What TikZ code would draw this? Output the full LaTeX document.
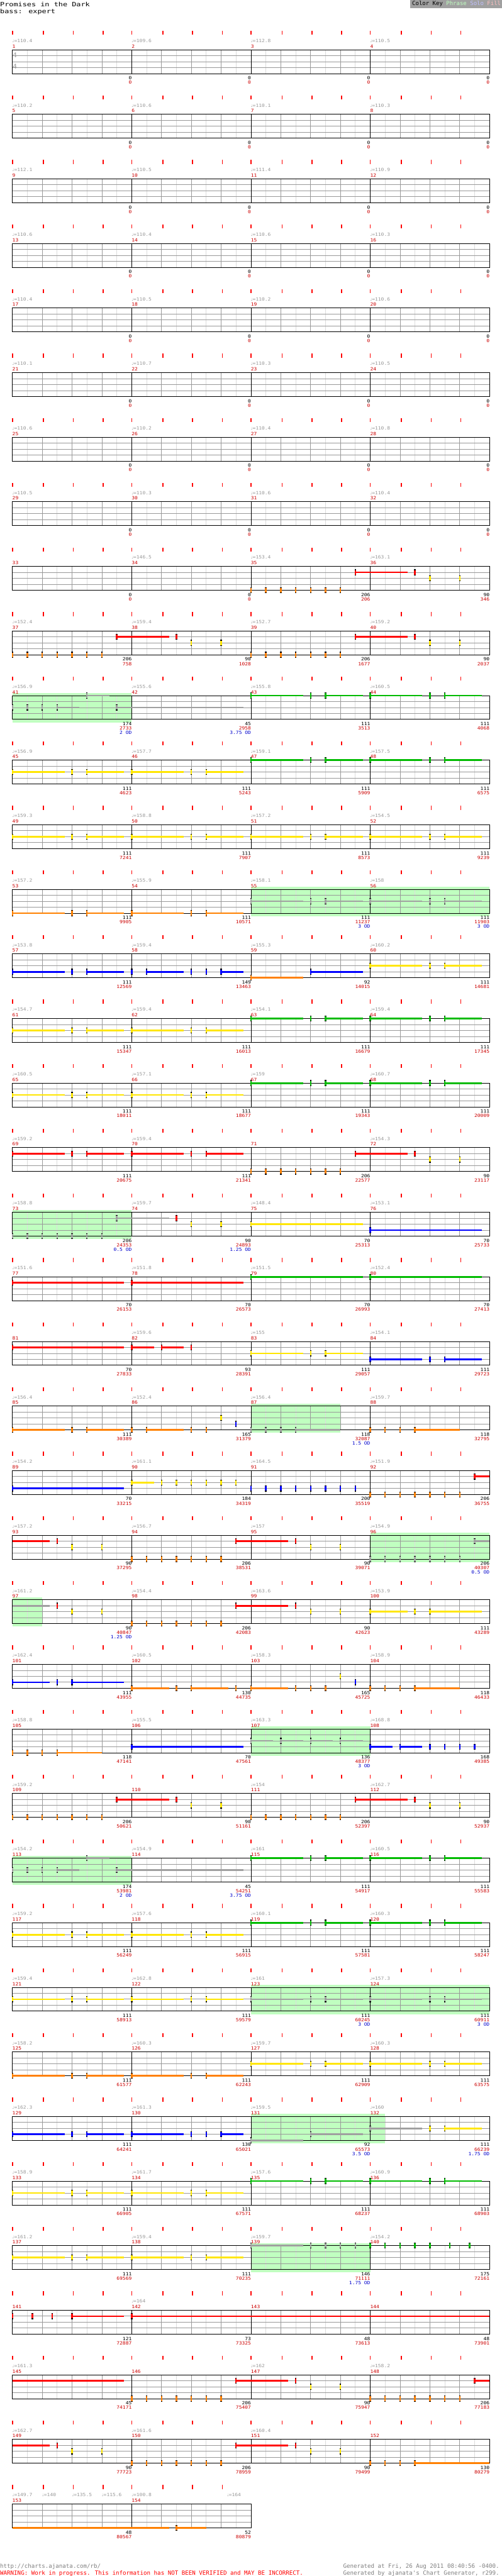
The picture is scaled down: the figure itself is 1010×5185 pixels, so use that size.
\documentclass[tikz,border=0pt]{standalone}
\usepackage{fontspec}
\newfontfamily\cf[FakeStretch=1.12]{DejaVu Sans Mono}
\newfontfamily\tf[FakeStretch=1.25]{DejaVu Sans Mono}
\newfontfamily\ff{DejaVu Sans Mono}
\newfontfamily\symf{DejaVu Sans}
\definecolor{cG}{HTML}{00BB00}
\definecolor{cR}{HTML}{FF0000}
\definecolor{cY}{HTML}{FFE600}
\definecolor{cB}{HTML}{0000FF}
\definecolor{cO}{HTML}{FF8000}
\definecolor{cS}{HTML}{A0A0A0}
\definecolor{odfill}{HTML}{C0FFC0}
\definecolor{glc}{HTML}{DCDCDC}
\definecolor{gmc}{HTML}{999999}
\definecolor{numred}{HTML}{CC0000}
\definecolor{tempog}{HTML}{999999}
\definecolor{odblue}{HTML}{0000CC}
\definecolor{footgray}{HTML}{808080}
\definecolor{keygray}{HTML}{A0A0A0}
\definecolor{kph}{HTML}{C0FFC0}
\definecolor{kso}{HTML}{C0C0FF}
\definecolor{kfi}{HTML}{FFC0C0}
\tikzset{
 txt/.style={inner sep=0pt,outer sep=0pt,font=\cf\fontsize{9}{9}\selectfont},
 mnum/.style={txt,anchor=base west,text=numred},
 tmp/.style={txt,anchor=base west,text=tempog},
 scb/.style={txt,anchor=base east,text=black},
 scr/.style={txt,anchor=base east,text=numred},
 scod/.style={txt,anchor=base east,text=odblue},
 gl/.style={draw=glc,line width=1pt},
 gm/.style={draw=gmc,line width=1pt},
 gk/.style={draw=black,line width=1pt},
}
\newcommand\qn{{\symf\fontsize{7.5}{7.5}\selectfont\char"2669}}
\newcommand\M[6]{%
 \node[mnum] at ({25+240*#1},34.3) {#2};
 \def\tmpa{#3}\ifx\tmpa\empty\else\node[tmp] at ({25+240*#1},23.3) {\qn=#3};\fi
 \node[scb] at ({25+240*(#1+1)},98.3) {#4};
 \node[scr] at ({25+240*(#1+1)},107.3) {#5};
 \def\tmpb{#6}\ifx\tmpb\empty\else\node[scod] at ({25+240*(#1+1)},116.3) {#6};\fi}
\newcommand\tp[2]{\node[tmp] at (#1,23.3) {\qn=#2};}
\newcommand\grid[1]{%
 \pgfmathtruncatemacro\ne{8*#1}%
 \pgfmathtruncatemacro\nb{4*#1}%
 \pgfmathsetmacro\xe{25+240*#1}%
 \foreach \i in {1,...,\ne} {\draw[gl] ({25+30*\i},38) -- ({25+30*\i},86);}
 \foreach \i in {1,...,\nb} {\draw[gm] ({25+60*\i},38) -- ({25+60*\i},86);}
 \foreach \j in {1,2,3} {\draw[gm] (25,{38+12*\j}) -- (\xe,{38+12*\j});}
 \foreach \mm in {1,...,#1} {\draw[gk] ({25+240*\mm},38) -- ({25+240*\mm},86);}
 \draw[gk] (25,38) rectangle (\xe,86);
 \foreach \mm in {1,...,#1} {\foreach \oo in {0,62.5,122.5,182.5} {\fill[cR] ({25+240*(\mm-1)+\oo-1},0) rectangle ++(2,8);}}
}
\newcommand\odr[2]{\fill[odfill] ({25+30*(#1)},33) rectangle ({25+30*(#2)},92);}
\newcommand\nt[3]{\fill[#1] ({25+30*(#3)-1.5},{20+12*#2}) rectangle ++(3,12);
 \fill[black] ({25+30*(#3)-1.5},{20+12*#2}) rectangle ++(3,1.5);
 \fill[black] ({25+30*(#3)-1.5},{30.5+12*#2}) rectangle ++(3,1.5);}
\newcommand\su[4]{\fill[#1] ({25+30*(#3)},{24.3+12*#2}) rectangle ({25+30*(#4)},{27.7+12*#2});}
\newcommand\ns[4]{\su{#1}{#2}{#3}{#4}\nt{#1}{#2}{#3}}
\newcommand\pA[3]{\ns{#1}{#2}{8*#3}{8*#3+3.5}\nt{#1}{#2}{8*#3+4}\ns{#1}{#2}{8*#3+5}{8*#3+7.5}}
\newcommand\pB[3]{\ns{#1}{#2}{8*#3}{8*#3+2.5}\nt{#1}{#2}{8*#3+3}\ns{#1}{#2}{8*#3+4}{8*#3+7.5}}
\newcommand\run[4]{\foreach \q in {#1,...,#2}{\nt{#3}{#4}{\q}}}
\newcommand\riff[1]{\foreach \q in {0,...,6}{\nt{cO}{5}{#1+\q}}\ns{cR}{2}{#1+7}{#1+10.5}\nt{cR}{2}{#1+11}\nt{cY}{3}{#1+12}\nt{cY}{3}{#1+14}}
\newcommand\odriff{\run{0}{6}{cS}{5}\ns{cS}{2}{7}{10.5}\nt{cR}{2}{11}\nt{cY}{3}{12}\nt{cY}{3}{14}}
\newcommand\solo{\ns{cS}{1}{5}{6.5}\nt{cS}{3}{0}\nt{cS}{3}{1}\nt{cS}{3}{2}\ns{cS}{3}{3}{4.5}\ns{cS}{3}{7}{15.5}}
\begin{document}
\begin{tikzpicture}[x=1pt,y=-1pt]
\useasboundingbox (0,0) rectangle (1010,5185);
\fill[white] (0,0) rectangle (1010,5185);
% header
\node[anchor=base west,inner sep=0pt,font=\tf\fontsize{12}{12}\selectfont] (title) at (0,12.7) {Promises in the Dark};
\node[anchor=base west,inner sep=0pt,font=\tf\fontsize{12}{12}\selectfont] (sub) at (0,27) {bass: expert};
\fill[keygray] (825,0) rectangle (1010,16);
\node[anchor=base east,inner sep=0pt,font=\ff\fontsize{11.4}{11.4}\selectfont] (key) at (1008,11) {Color Key \textcolor{kph}{Phrase} \textcolor{kso}{Solo} \textcolor{kfi}{Fill}};
% row 0
\begin{scope}[shift={(0,62)}]
\grid{4}
\node[txt,text=gmc,font=\cf\fontsize{13}{13}\selectfont] at (30,48.5) {4};
\node[txt,text=gmc,font=\cf\fontsize{13}{13}\selectfont] at (30,72.5) {4};
\M{0}{1}{110.4}{0}{0}{}\M{1}{2}{109.6}{0}{0}{}\M{2}{3}{112.8}{0}{0}{}\M{3}{4}{110.5}{0}{0}{}
\end{scope}
\begin{scope}[shift={(0,192)}]\grid{4}
\M{0}{5}{110.2}{0}{0}{}\M{1}{6}{110.6}{0}{0}{}\M{2}{7}{110.1}{0}{0}{}\M{3}{8}{110.3}{0}{0}{}
\end{scope}
\begin{scope}[shift={(0,322)}]\grid{4}
\M{0}{9}{112.1}{0}{0}{}\M{1}{10}{110.5}{0}{0}{}\M{2}{11}{111.4}{0}{0}{}\M{3}{12}{110.9}{0}{0}{}
\end{scope}
\begin{scope}[shift={(0,452)}]\grid{4}
\M{0}{13}{110.6}{0}{0}{}\M{1}{14}{110.4}{0}{0}{}\M{2}{15}{110.6}{0}{0}{}\M{3}{16}{110.3}{0}{0}{}
\end{scope}
\begin{scope}[shift={(0,582)}]\grid{4}
\M{0}{17}{110.4}{0}{0}{}\M{1}{18}{110.5}{0}{0}{}\M{2}{19}{110.2}{0}{0}{}\M{3}{20}{110.6}{0}{0}{}
\end{scope}
\begin{scope}[shift={(0,712)}]\grid{4}
\M{0}{21}{110.1}{0}{0}{}\M{1}{22}{110.7}{0}{0}{}\M{2}{23}{110.3}{0}{0}{}\M{3}{24}{110.5}{0}{0}{}
\end{scope}
\begin{scope}[shift={(0,842)}]\grid{4}
\M{0}{25}{110.6}{0}{0}{}\M{1}{26}{110.2}{0}{0}{}\M{2}{27}{110.4}{0}{0}{}\M{3}{28}{110.8}{0}{0}{}
\end{scope}
\begin{scope}[shift={(0,972)}]\grid{4}
\M{0}{29}{110.5}{0}{0}{}\M{1}{30}{110.3}{0}{0}{}\M{2}{31}{110.6}{0}{0}{}\M{3}{32}{110.4}{0}{0}{}
\end{scope}
% row 8
\begin{scope}[shift={(0,1102)}]\grid{4}
\M{0}{33}{}{0}{0}{}\M{1}{34}{146.5}{0}{0}{}\M{2}{35}{153.4}{206}{206}{}\M{3}{36}{163.1}{90}{346}{}
\riff{16}
\end{scope}
\begin{scope}[shift={(0,1232)}]\grid{4}
\M{0}{37}{152.4}{206}{758}{}\M{1}{38}{159.4}{90}{1028}{}\M{2}{39}{152.7}{206}{1677}{}\M{3}{40}{159.2}{90}{2037}{}
\riff{0}\riff{16}
\end{scope}
\begin{scope}[shift={(0,1362)}]\odr{0}{8}\grid{4}
\M{0}{41}{156.9}{174}{2733}{2 OD}\M{1}{42}{155.6}{45}{2958}{3.75 OD}\M{2}{43}{155.8}{111}{3513}{}\M{3}{44}{160.5}{111}{4068}{}
\solo\pA{cG}{1}{2}\pA{cG}{1}{3}
\end{scope}
\begin{scope}[shift={(0,1492)}]\grid{4}
\M{0}{45}{156.9}{111}{4623}{}\M{1}{46}{157.7}{111}{5243}{}\M{2}{47}{159.1}{111}{5909}{}\M{3}{48}{157.5}{111}{6575}{}
\pA{cY}{3}{0}\pA{cY}{3}{1}\pA{cG}{1}{2}\pA{cG}{1}{3}
\end{scope}
\begin{scope}[shift={(0,1622)}]\grid{4}
\M{0}{49}{159.3}{111}{7241}{}\M{1}{50}{158.8}{111}{7907}{}\M{2}{51}{157.2}{111}{8573}{}\M{3}{52}{154.5}{111}{9239}{}
\pA{cY}{3}{0}\pA{cY}{3}{1}\pA{cY}{3}{2}\pA{cY}{3}{3}
\end{scope}
\begin{scope}[shift={(0,1752)}]\odr{16}{32}\grid{4}
\M{0}{53}{157.2}{111}{9905}{}\M{1}{54}{155.9}{111}{10571}{}\M{2}{55}{158.1}{111}{11237}{3 OD}\M{3}{56}{158}{111}{11903}{3 OD}
\pA{cO}{5}{0}\pA{cO}{5}{1}\pA{cS}{3}{2}\pA{cS}{3}{3}
\end{scope}
\begin{scope}[shift={(0,1882)}]\grid{4}
\M{0}{57}{153.8}{111}{12569}{}\M{1}{58}{159.4}{149}{13463}{}\M{2}{59}{155.3}{92}{14015}{}\M{3}{60}{160.2}{111}{14681}{}
\pA{cB}{4}{0}\nt{cB}{4}{8}\ns{cB}{4}{9}{11.5}\nt{cB}{4}{12}\nt{cB}{4}{13}\ns{cB}{4}{14}{15.5}
\ns{cO}{5}{16}{19.5}\ns{cB}{4}{20}{23.5}\pA{cY}{3}{3}
\end{scope}
\begin{scope}[shift={(0,2012)}]\grid{4}
\M{0}{61}{154.7}{111}{15347}{}\M{1}{62}{159.4}{111}{16013}{}\M{2}{63}{154.1}{111}{16679}{}\M{3}{64}{159.4}{111}{17345}{}
\pA{cY}{3}{0}\pA{cY}{3}{1}\pA{cG}{1}{2}\pA{cG}{1}{3}
\end{scope}
\begin{scope}[shift={(0,2142)}]\grid{4}
\M{0}{65}{160.5}{111}{18011}{}\M{1}{66}{157.1}{111}{18677}{}\M{2}{67}{159}{111}{19343}{}\M{3}{68}{160.7}{111}{20009}{}
\pA{cY}{3}{0}\pA{cY}{3}{1}\pA{cG}{1}{2}\pA{cG}{1}{3}
\end{scope}
\begin{scope}[shift={(0,2272)}]\grid{4}
\M{0}{69}{159.2}{111}{20675}{}\M{1}{70}{159.4}{111}{21341}{}\M{2}{71}{}{206}{22577}{}\M{3}{72}{154.3}{90}{23117}{}
\pA{cR}{2}{0}\pA{cR}{2}{1}\riff{16}
\end{scope}
\begin{scope}[shift={(0,2402)}]\odr{0}{8}\grid{4}
\M{0}{73}{158.8}{206}{24353}{0.5 OD}\M{1}{74}{159.7}{90}{24893}{1.25 OD}\M{2}{75}{148.4}{70}{25313}{}\M{3}{76}{153.1}{70}{25733}{}
\odriff\ns{cY}{3}{16}{23.5}\ns{cB}{4}{24}{31.5}
\end{scope}
\begin{scope}[shift={(0,2532)}]\grid{4}
\M{0}{77}{151.6}{70}{26153}{}\M{1}{78}{151.8}{70}{26573}{}\M{2}{79}{151.5}{70}{26993}{}\M{3}{80}{152.4}{70}{27413}{}
\ns{cR}{2}{0}{7.5}\ns{cR}{2}{8}{15.5}\ns{cG}{1}{16}{23.5}\ns{cG}{1}{24}{31.5}
\end{scope}
\begin{scope}[shift={(0,2662)}]\grid{4}
\M{0}{81}{}{70}{27833}{}\M{1}{82}{159.6}{93}{28391}{}\M{2}{83}{155}{111}{29057}{}\M{3}{84}{154.1}{111}{29723}{}
\ns{cR}{2}{0}{7.5}\ns{cR}{2}{8}{9.5}\ns{cR}{2}{10}{11.5}\nt{cR}{2}{12}\pA{cY}{3}{2}\pA{cB}{4}{3}
\end{scope}
\begin{scope}[shift={(0,2792)}]\odr{16}{22}\grid{4}
\M{0}{85}{156.4}{111}{30389}{}\M{1}{86}{152.4}{165}{31379}{}\M{2}{87}{156.4}{118}{32087}{1.5 OD}\M{3}{88}{159.7}{118}{32795}{}
\pA{cO}{5}{0}\nt{cO}{5}{8}\ns{cO}{5}{9}{11.5}\nt{cO}{5}{12}\nt{cO}{5}{13}\nt{cY}{3}{14}\nt{cB}{4}{15}
\run{16}{18}{cS}{5}\ns{cS}{5}{19}{22}\run{24}{26}{cO}{5}\ns{cO}{5}{27}{30}
\end{scope}
\begin{scope}[shift={(0,2922)}]\grid{4}
\M{0}{89}{154.2}{70}{33215}{}\M{1}{90}{161.1}{184}{34319}{}\M{2}{91}{164.5}{200}{35519}{}\M{3}{92}{151.9}{206}{36755}{}
\ns{cB}{4}{0}{7.5}\ns{cY}{3}{8}{9.5}\run{10}{15}{cY}{3}\run{16}{23}{cB}{4}\run{24}{30}{cO}{5}\ns{cR}{2}{31}{32}
\end{scope}
\begin{scope}[shift={(0,3052)}]\odr{24}{32}\grid{4}
\M{0}{93}{157.2}{90}{37295}{}\M{1}{94}{156.7}{206}{38531}{}\M{2}{95}{157}{90}{39071}{}\M{3}{96}{154.9}{206}{40307}{0.5 OD}
\su{cR}{2}{0}{2.5}\nt{cR}{2}{3}\nt{cY}{3}{4}\nt{cY}{3}{6}\riff{8}\run{24}{30}{cS}{5}\ns{cS}{2}{31}{32}
\end{scope}
\begin{scope}[shift={(0,3182)}]\odr{0}{2}\grid{4}
\M{0}{97}{161.2}{90}{40847}{1.25 OD}\M{1}{98}{154.4}{206}{42083}{}\M{2}{99}{163.6}{90}{42623}{}\M{3}{100}{153.9}{111}{43289}{}
\su{cS}{2}{0}{2.5}\nt{cR}{2}{3}\nt{cY}{3}{4}\nt{cY}{3}{6}\riff{8}\pB{cY}{3}{3}
\end{scope}
\begin{scope}[shift={(0,3312)}]\grid{4}
\M{0}{101}{162.4}{111}{43955}{}\M{1}{102}{160.5}{130}{44735}{}\M{2}{103}{158.3}{165}{45725}{}\M{3}{104}{158.9}{118}{46433}{}
\pB{cB}{4}{0}\ns{cO}{5}{8}{10.5}\nt{cO}{5}{11}\ns{cO}{5}{12}{14.5}\nt{cO}{5}{15}
\ns{cO}{5}{16}{18.5}\run{19}{21}{cO}{5}\nt{cY}{3}{22}\nt{cB}{4}{23}\run{24}{26}{cO}{5}\ns{cO}{5}{27}{30}
\end{scope}
\begin{scope}[shift={(0,3442)}]\odr{16}{24}\grid{4}
\M{0}{105}{158.8}{118}{47141}{}\M{1}{106}{155.5}{70}{47561}{}\M{2}{107}{163.3}{136}{48377}{3 OD}\M{3}{108}{168.8}{168}{49385}{}
\run{0}{2}{cO}{5}\ns{cO}{5}{3}{6}\ns{cB}{4}{8}{15.5}
\ns{cS}{3}{16}{17.5}\ns{cS}{3}{18}{19.5}\ns{cS}{3}{20}{21.5}\ns{cS}{3}{22}{23.5}
\ns{cB}{4}{24}{25.5}\ns{cB}{4}{26}{27.5}\run{28}{31}{cB}{4}
\end{scope}
\begin{scope}[shift={(0,3572)}]\grid{4}
\M{0}{109}{159.2}{206}{50621}{}\M{1}{110}{}{90}{51161}{}\M{2}{111}{154}{206}{52397}{}\M{3}{112}{162.7}{90}{52937}{}
\riff{0}\riff{16}
\end{scope}
\begin{scope}[shift={(0,3702)}]\odr{0}{8}\grid{4}
\M{0}{113}{154.2}{174}{53981}{2 OD}\M{1}{114}{154.9}{45}{54251}{3.75 OD}\M{2}{115}{161}{111}{54917}{}\M{3}{116}{160.5}{111}{55583}{}
\solo\pA{cG}{1}{2}\pA{cG}{1}{3}
\end{scope}
\begin{scope}[shift={(0,3832)}]\grid{4}
\M{0}{117}{159.2}{111}{56249}{}\M{1}{118}{157.6}{111}{56915}{}\M{2}{119}{160.1}{111}{57581}{}\M{3}{120}{160.3}{111}{58247}{}
\pA{cY}{3}{0}\pA{cY}{3}{1}\pA{cG}{1}{2}\pA{cG}{1}{3}
\end{scope}
\begin{scope}[shift={(0,3962)}]\odr{16}{32}\grid{4}
\M{0}{121}{159.4}{111}{58913}{}\M{1}{122}{162.8}{111}{59579}{}\M{2}{123}{161}{111}{60245}{3 OD}\M{3}{124}{157.3}{111}{60911}{3 OD}
\pA{cY}{3}{0}\pA{cY}{3}{1}\pA{cS}{3}{2}\pA{cS}{3}{3}
\end{scope}
\begin{scope}[shift={(0,4092)}]\grid{4}
\M{0}{125}{158.2}{111}{61577}{}\M{1}{126}{160.3}{111}{62243}{}\M{2}{127}{159.7}{111}{62909}{}\M{3}{128}{160.3}{111}{63575}{}
\pA{cO}{5}{0}\pA{cO}{5}{1}\pA{cY}{3}{2}\pA{cY}{3}{3}
\end{scope}
\begin{scope}[shift={(0,4222)}]\odr{16}{25}\grid{4}
\M{0}{129}{162.3}{111}{64241}{}\M{1}{130}{161.3}{130}{65021}{}\M{2}{131}{159.5}{92}{65573}{3.5 OD}\M{3}{132}{160}{111}{66239}{1.75 OD}
\pA{cB}{4}{0}\ns{cB}{4}{8}{11.5}\nt{cB}{4}{12}\nt{cB}{4}{13}\ns{cB}{4}{14}{15.5}
\ns{cS}{5}{16}{19.5}\ns{cS}{4}{20}{23.5}\ns{cS}{3}{24}{27.5}\nt{cY}{3}{28}\ns{cY}{3}{29}{31.5}
\end{scope}
\begin{scope}[shift={(0,4352)}]\grid{4}
\M{0}{133}{158.9}{111}{66905}{}\M{1}{134}{161.7}{111}{67571}{}\M{2}{135}{157.6}{111}{68237}{}\M{3}{136}{160.9}{111}{68903}{}
\pA{cY}{3}{0}\pA{cY}{3}{1}\pA{cG}{1}{2}\pA{cG}{1}{3}
\end{scope}
\begin{scope}[shift={(0,4482)}]\odr{16}{24}\grid{4}
\M{0}{137}{161.2}{111}{69569}{}\M{1}{138}{159.4}{111}{70235}{}\M{2}{139}{159.7}{146}{71111}{1.75 OD}\M{3}{140}{154.2}{175}{72161}{}
\pA{cY}{3}{0}\pA{cY}{3}{1}\ns{cS}{1}{16}{19.5}\run{20}{23}{cS}{1}\run{24}{28}{cG}{1}\nt{cG}{1}{29.333}\nt{cG}{1}{30.667}
\end{scope}
\begin{scope}[shift={(0,4612)}]\grid{4}
\M{0}{141}{}{121}{72887}{}\M{1}{142}{164}{73}{73325}{}\M{2}{143}{}{48}{73613}{}\M{3}{144}{}{48}{73901}{}
\nt{cR}{2}{0}\nt{cR}{2}{1.333}\nt{cR}{2}{2.667}\ns{cR}{2}{4}{7.5}\ns{cR}{2}{8}{32}
\end{scope}
\begin{scope}[shift={(0,4742)}]\grid{4}
\M{0}{145}{161.3}{45}{74171}{}\M{1}{146}{}{206}{75407}{}\M{2}{147}{162}{90}{75947}{}\M{3}{148}{158.2}{206}{77183}{}
\su{cR}{2}{0}{7.5}\riff{8}\run{24}{30}{cO}{5}\ns{cR}{2}{31}{32}
\end{scope}
\begin{scope}[shift={(0,4872)}]\grid{4}
\M{0}{149}{162.7}{90}{77723}{}\M{1}{150}{161.6}{206}{78959}{}\M{2}{151}{160.4}{90}{79499}{}\M{3}{152}{}{130}{80279}{}
\su{cR}{2}{0}{2.5}\nt{cR}{2}{3}\nt{cY}{3}{4}\nt{cY}{3}{6}\riff{8}\run{24}{26}{cO}{5}\ns{cO}{5}{27}{32}
\end{scope}
\begin{scope}[shift={(0,5002)}]\grid{2}
\M{0}{153}{149.7}{48}{80567}{}\M{1}{154}{100.8}{52}{80879}{}
\tp{85}{140}\tp{145}{135.5}\tp{205}{115.6}\tp{457}{164}
\su{cO}{5}{0}{10.5}\ns{cO}{5}{11}{13}
\end{scope}
% footer
\node[anchor=base west,inner sep=0pt,text=footgray,font=\ff\fontsize{11.6}{11.6}\selectfont] (url) at (0,5169) {http://charts.ajanata.com/rb/};
\node[anchor=base west,inner sep=0pt,text=cR,font=\ff\fontsize{11.6}{11.6}\selectfont] (warn) at (0,5183) {WARNING: Work in progress. This information has NOT BEEN VERIFIED and MAY BE INCORRECT.};
\node[anchor=base east,inner sep=0pt,text=footgray,font=\ff\fontsize{11.6}{11.6}\selectfont] (gen1) at (1005,5169) {Generated at Fri, 26 Aug 2011 08:40:56 -0400.};
\node[anchor=base east,inner sep=0pt,text=footgray,font=\ff\fontsize{11.6}{11.6}\selectfont] (gen2) at (1005,5183) {Generated by ajanata\char"27 s Chart Generator, r299.};
\end{tikzpicture}
\end{document}
